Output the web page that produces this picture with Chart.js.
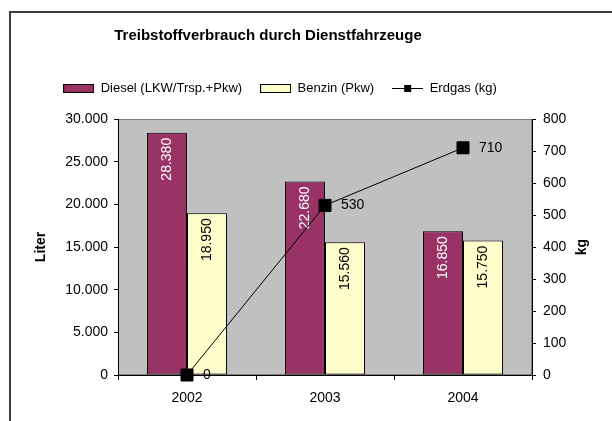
<!DOCTYPE html>
<html>
<head>
<meta charset="utf-8">
<script src="https://cdn.jsdelivr.net/npm/chart.js@4/dist/chart.umd.min.js"></script>
<style>
  html, body { margin: 0; padding: 0; background: #fff; overflow: hidden; }
  #wrap { position: relative; width: 612px; height: 421px; }
  #frame { position: absolute; left: 9px; top: 11px; width: 700px; height: 500px;
           border-left: 2px solid #3c3c3c; border-top: 2px solid #3c3c3c; }
  #chart { position: absolute; left: 0; top: 0; }
</style>
</head>
<body>
<div id="wrap">
  <div id="frame"></div>
  <canvas id="chart" width="612" height="421"></canvas>
</div>
<script>
var years = ['2002', '2003', '2004'];
var diesel = [28380, 22680, 16850];
var benzin = [18950, 15560, 15750];
var erdgas = [0, 530, 710];

var seriesNames = ['Diesel (LKW/Trsp.+Pkw)', 'Benzin (Pkw)', 'Erdgas (kg)'];
var dieselColor = '#993366';
var benzinColor = '#FFFFCC';
var FONT = "'Liberation Sans', Arial, sans-serif";

Chart.defaults.font.family = FONT;
Chart.defaults.color = '#000';

function de(v) {
	return String(v).replace(/\B(?=(\d{3})+(?!\d))/g, '.');
}

// small canvases used as legend symbols
function boxIcon(fill) {
	var c = document.createElement('canvas');
	c.width = 31; c.height = 9;
	var g = c.getContext('2d');
	g.fillStyle = fill;
	g.fillRect(0, 0, 31, 9);
	g.strokeStyle = '#000';
	g.lineWidth = 1;
	g.strokeRect(0.5, 0.5, 30, 8);
	return c;
}
function lineIcon() {
	var c = document.createElement('canvas');
	c.width = 31; c.height = 9;
	var g = c.getContext('2d');
	g.fillStyle = '#000';
	g.fillRect(0, 4, 31, 1);
	g.fillRect(12, 1, 7, 7);
	return c;
}
var icons = [boxIcon(dieselColor), boxIcon(benzinColor), lineIcon()];

var valueLabels = {
	id: 'valueLabels',
	afterDatasetDraw: function(chart, args) {
		var ctx = chart.ctx;
		var meta = args.meta;
		ctx.save();
		ctx.font = '14px ' + FONT;
		if (meta.type === 'bar') {
			ctx.fillStyle = args.index === 0 ? '#fff' : '#000';
			ctx.textAlign = 'right';
			ctx.textBaseline = 'middle';
			meta.data.forEach(function(el, i) {
				var v = chart.data.datasets[args.index].data[i];
				ctx.save();
				ctx.translate(el.x, el.y + 5);
				ctx.rotate(-Math.PI / 2);
				ctx.fillText(de(v), 0, 0);
				ctx.restore();
			});
		} else {
			ctx.fillStyle = '#000';
			ctx.textAlign = 'left';
			ctx.textBaseline = 'middle';
			meta.data.forEach(function(el, i) {
				ctx.fillText(de(erdgas[i]), el.x + 16, el.y);
			});
		}
		ctx.restore();
	},
	// right axis title reads upwards like the left one
	afterDraw: function(chart) {
		var s = chart.scales.y2;
		var ctx = chart.ctx;
		ctx.save();
		ctx.font = 'bold 14px ' + FONT;
		ctx.fillStyle = '#000';
		ctx.textAlign = 'center';
		ctx.textBaseline = 'middle';
		ctx.translate(s.right - 30, (s.top + s.bottom) / 2);
		ctx.rotate(-Math.PI / 2);
		ctx.fillText('kg', 0, 0);
		ctx.restore();
	}
};

var plotBack = {
	id: 'plotBack',
	beforeDraw: function(chart) {
		var a = chart.chartArea;
		var ctx = chart.ctx;
		ctx.save();
		ctx.fillStyle = '#C0C0C0';
		ctx.fillRect(a.left, a.top, a.right - a.left, a.bottom - a.top);
		ctx.strokeStyle = '#808080';
		ctx.lineWidth = 1;
		ctx.strokeRect(a.left + 0.5, a.top + 0.5, a.right - a.left - 1, a.bottom - a.top - 1);
		ctx.restore();
	},
	// title and legend are not centred on the picture
	afterLayout: function(chart) {
		var t = chart.titleBlock;
		t.left -= 38; t.right -= 38;
		var l = chart.legend;
		l.left -= 26; l.right -= 26;
		l.top -= 14; l.bottom -= 14;
	}
};

new Chart(document.getElementById('chart'), {
	type: 'bar',
	data: {
		labels: years,
		datasets: [{
			label: seriesNames[0],
			data: diesel,
			backgroundColor: dieselColor,
			borderColor: '#000',
			borderWidth: 1,
			borderSkipped: false,
			categoryPercentage: 0.58,
			barPercentage: 1.0,
			yAxisID: 'y',
			order: 1
		}, {
			label: seriesNames[1],
			data: benzin,
			backgroundColor: benzinColor,
			borderColor: '#000',
			borderWidth: 1,
			borderSkipped: false,
			categoryPercentage: 0.58,
			barPercentage: 1.0,
			yAxisID: 'y',
			order: 1
		}, {
			type: 'line',
			label: seriesNames[2],
			data: erdgas,
			borderColor: '#000',
			borderWidth: 1,
			backgroundColor: '#000',
			pointStyle: 'rect',
			pointRadius: 8.5,
			pointBackgroundColor: '#000',
			pointBorderColor: '#000',
			pointBorderWidth: 1,
			tension: 0,
			clip: false,
			yAxisID: 'y2',
			order: 0
		}]
	},
	options: {
		responsive: false,
		animation: false,
		events: [],
		layout: { padding: 0 },
		plugins: {
			tooltip: { enabled: false },
			title: {
				display: true,
				text: 'Treibstoffverbrauch durch Dienstfahrzeuge',
				color: '#000',
				font: { size: 15, weight: 'bold' },
				padding: { top: 27, bottom: 33 }
			},
			legend: {
				display: true,
				position: 'top',
				labels: {
					color: '#000',
					font: { size: 13 },
					usePointStyle: true,
					pointStyleWidth: 31,
					boxHeight: 9,
					padding: 18,
					sort: function(a, b) { return a.datasetIndex - b.datasetIndex; },
					generateLabels: function(chart) {
						var items = Chart.defaults.plugins.legend.labels.generateLabels(chart);
						items.forEach(function(it) { it.pointStyle = icons[it.datasetIndex]; });
						return items;
					}
				}
			}
		},
		scales: {
			x: {
				grid: { drawOnChartArea: false, offset: true, tickLength: 5, color: '#000' },
				border: { color: '#000', width: 1 },
				ticks: { color: '#000', font: { size: 14 }, padding: 10 },
				afterFit: function(s) { s.height = 46; }
			},
			y: {
				position: 'left',
				min: 0,
				max: 30000,
				grid: { drawOnChartArea: false, tickLength: 4, color: '#000' },
				border: { color: '#000', width: 1 },
				ticks: { stepSize: 5000, color: '#000', font: { size: 14 }, padding: 6,
					callback: function(v) { return de(v); } },
				title: { display: true, text: 'Liter', color: '#000',
					font: { size: 14, weight: 'bold' }, padding: { top: 33, bottom: 0 } },
				afterFit: function(s) { s.width = 118; }
			},
			y2: {
				position: 'right',
				min: 0,
				max: 800,
				grid: { drawOnChartArea: false, tickLength: 4, color: '#000' },
				border: { color: '#000', width: 1 },
				ticks: { stepSize: 100, color: '#000', font: { size: 14 }, padding: 7 },
				afterFit: function(s) { s.width = 80; }
			}
		}
	},
	plugins: [plotBack, valueLabels]
});
</script>
</body>
</html>
